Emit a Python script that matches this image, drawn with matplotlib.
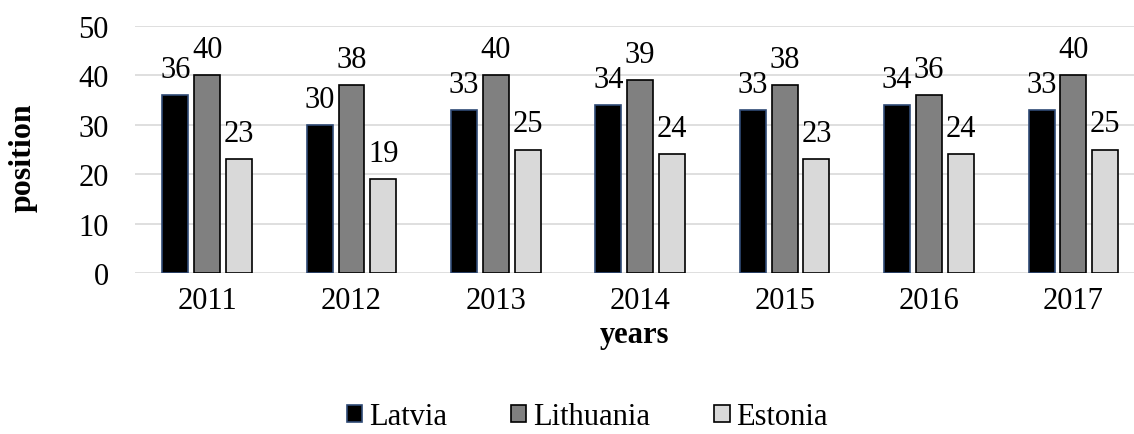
import matplotlib.pyplot as plt
import numpy as np

plt.rcParams['font.family'] = ['Liberation Serif', 'DejaVu Serif']

years = ['2011', '2012', '2013', '2014', '2015', '2016', '2017']
latvia = [36, 30, 33, 34, 33, 34, 33]
lithuania = [40, 38, 40, 39, 38, 36, 40]
estonia = [23, 19, 25, 24, 23, 24, 25]

series = [("Latvia", latvia, "#000000", "#2f4a75"),
          ("Lithuania", lithuania, "#808080", "#000000"),
          ("Estonia", estonia, "#d9d9d9", "#000000")]

fig = plt.figure(figsize=(11.34, 4.35), dpi=100)
ax = fig.add_axes([0.119, 0.370, 0.881, 0.568])

x = np.arange(len(years))
w = 0.18
step = 0.22
for i, (name, vals, fc, ec) in enumerate(series):
    pos = x + (i - 1) * step
    bars = ax.bar(pos, vals, width=w, color=fc, edgecolor=ec, linewidth=1.2,
                  label=name, zorder=3)
    for b, v in zip(bars, vals):
        ax.annotate(str(v), (b.get_x() + b.get_width() / 2, v),
                    xytext=(0, 13), textcoords='offset points',
                    ha='center', va='baseline', fontsize=22)

ax.set_xlim(-0.5, 6.42)
ax.set_ylim(0, 50)
ax.set_yticks(range(0, 51, 10))
ax.set_xticks(x)
ax.set_xticklabels(years)
ax.yaxis.grid(True, color='#d9d9d9', linewidth=1.2, zorder=0)
for s in ax.spines.values():
    s.set_visible(False)
ax.tick_params(axis='both', length=0, labelsize=22)
ax.tick_params(axis='y', pad=19)
ax.tick_params(axis='x', pad=9)

ax.set_ylabel('position', fontsize=23, fontweight='bold')
ax.yaxis.set_label_coords(-0.097, 0.47)
ax.set_xlabel('years', fontsize=22, fontweight='bold', labelpad=4)

fig.legend(loc='center', bbox_to_anchor=(0.518, 0.040), ncol=3,
           frameon=False, fontsize=22, handlelength=0.5, handleheight=0.5,
           handletextpad=0.22, columnspacing=2.1)

fig.savefig('out.png', dpi=100)
